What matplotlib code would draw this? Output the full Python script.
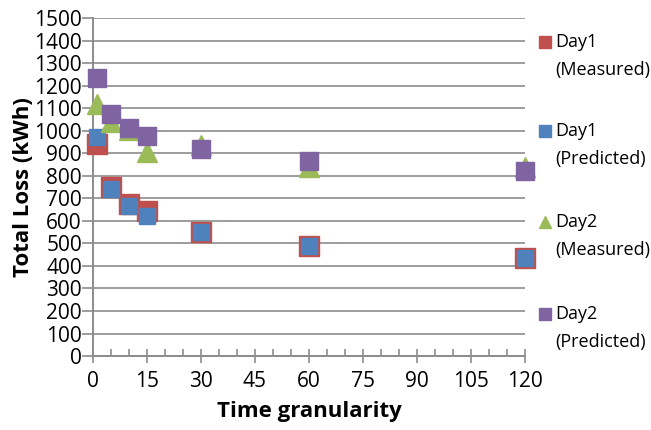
import matplotlib

matplotlib.use("Agg")
import matplotlib.pyplot as plt
from matplotlib.lines import Line2D
from matplotlib.ticker import MultipleLocator

plt.rcParams["font.family"] = ["Open Sans", "DejaVu Sans"]

granularity = [1, 5, 10, 15, 30, 60, 120]
day1_measured = [940, 750, 675, 645, 550, 490, 435]
day1_predicted = [970, 740, 665, 620, 550, 490, 435]
day2_measured = [1120, 1040, 1005, 905, 935, 840, 840]
day2_predicted = [1235, 1075, 1010, 975, 920, 865, 820]

series_names = ["Day1", "Day1", "Day2", "Day2"]
series_kinds = ["(Measured)", "(Predicted)", "(Measured)", "(Predicted)"]
colors = ["#C0504D", "#4F81BD", "#9BBB59", "#8064A2"]
markers = ["s", "s", "^", "s"]
sizes = [15, 12, 14, 13]
GRID = "#8C8C8C"

W, H = 651, 430
fig = plt.figure(figsize=(W / 100, H / 100), dpi=100)
ax = fig.add_axes([0.143, 0.172, 0.663, 0.786])

series = [day1_measured, day1_predicted, day2_measured, day2_predicted]
# draw order: day2 measured under day2 predicted, day1 measured under day1 predicted
for idx in [2, 3, 0, 1]:
    ax.plot(granularity, series[idx], linestyle="none", marker=markers[idx],
            markersize=sizes[idx], color=colors[idx], clip_on=False, zorder=3 + idx)

ax.set_xlim(0, 120)
ax.set_ylim(0, 1500)
ax.xaxis.set_major_locator(MultipleLocator(15))
ax.xaxis.set_minor_locator(MultipleLocator(5))
ax.yaxis.set_major_locator(MultipleLocator(100))

ax.grid(axis="y", color=GRID, linewidth=1.2)
ax.set_axisbelow(True)
for side in ["top", "right"]:
    ax.spines[side].set_visible(False)
for side in ["left", "bottom"]:
    ax.spines[side].set_color(GRID)
    ax.spines[side].set_linewidth(1.4)

ax.tick_params(axis="x", which="major", direction="inout", length=10, width=1.2,
               color=GRID, labelsize=15, pad=6)
ax.tick_params(axis="x", which="minor", direction="in", length=5, width=1.2, color=GRID)
ax.tick_params(axis="y", which="major", direction="out", length=8, width=1.2,
               color=GRID, labelsize=15, pad=0)

ax.set_xlabel("Time granularity", fontsize=16, fontweight="bold", labelpad=6)
ax.set_ylabel("Total Loss (kWh)", fontsize=16, fontweight="bold", labelpad=0)

# legend on the right, marker beside the first line of each label
legend_px = [42, 131, 222, 314]
for name, kind, col, mk, ypx in zip(series_names, series_kinds, colors, markers, legend_px):
    y = 1 - ypx / H
    fig.add_artist(Line2D([545 / W], [y], marker=mk, color=col, markersize=9,
                          linestyle="none", transform=fig.transFigure))
    fig.text(555 / W, y, name, fontsize=13, va="center", ha="left")
    fig.text(555 / W, y - 28 / H, kind, fontsize=13, va="center", ha="left")

fig.savefig("out.png", dpi=100)
